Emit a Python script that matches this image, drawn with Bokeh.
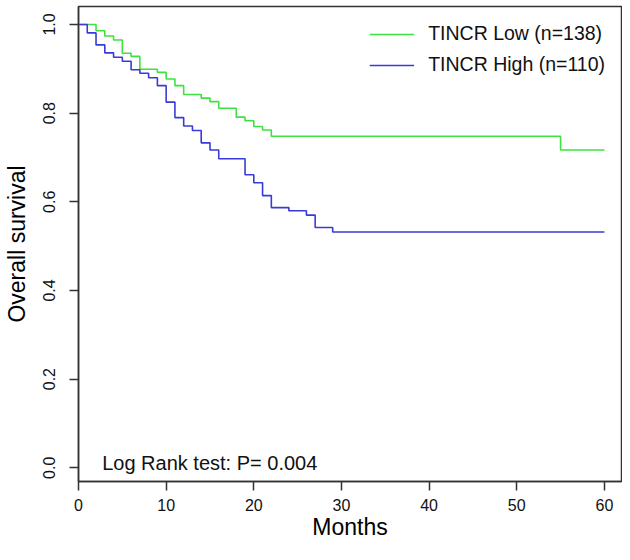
from bokeh.plotting import figure
from bokeh.models import Range1d, FixedTicker, Label, Legend, LegendItem
from bokeh.embed import file_html
from bokeh.resources import INLINE

# Kaplan-Meier steps (months, survival)
low_months = [0, 2, 3, 4, 5, 6, 7, 9, 10, 11, 12, 14, 15, 16, 18, 19, 20, 21, 22, 55, 60]
low_surv = [1.0, 0.986, 0.974, 0.965, 0.935, 0.928, 0.899, 0.892, 0.877, 0.862, 0.842,
            0.834, 0.826, 0.811, 0.791, 0.783, 0.770, 0.762, 0.748, 0.717, 0.717]

high_months = [0, 1, 2, 3, 4, 5, 6, 7, 8, 9, 10, 11, 12, 13, 14, 15, 16, 19, 20, 21, 22,
               24, 26, 27, 29, 60]
high_surv = [1.0, 0.981, 0.954, 0.936, 0.926, 0.917, 0.898, 0.890, 0.880, 0.862, 0.825,
             0.790, 0.771, 0.761, 0.733, 0.717, 0.697, 0.661, 0.643, 0.614, 0.587,
             0.580, 0.570, 0.542, 0.532, 0.532]

x_ticks = [0, 10, 20, 30, 40, 50, 60]
y_ticks = [0.0, 0.2, 0.4, 0.6, 0.8, 1.0]
y_tick_labels = {0.0: "0.0", 0.2: "0.2", 0.4: "0.4", 0.6: "0.6", 0.8: "0.8", 1.0: "1.0"}

low_label = "TINCR Low (n=138)"
high_label = "TINCR High (n=110)"
pvalue_text = "Log Rank test: P=  0.004"

FONT = "Liberation Sans"
GREEN = "#3ee23e"
BLUE = "#3a3ad8"

p = figure(width=622, height=544, output_backend="svg", toolbar_location=None,
           x_range=Range1d(0, 61.95), y_range=Range1d(-0.0309, 1.0406),
           min_border_left=77, min_border_right=1, min_border_top=6, min_border_bottom=63)

p.xgrid.visible = False
p.ygrid.visible = False
p.outline_line_color = "#333333"
p.outline_line_width = 1.5
p.background_fill_color = "white"
p.border_fill_color = "white"

r_low = p.step(low_months, low_surv, mode="after", line_color=GREEN, line_width=1.6)
r_high = p.step(high_months, high_surv, mode="after", line_color=BLUE, line_width=1.6)

for ax in (p.xaxis[0], p.yaxis[0]):
    ax.axis_line_color = "#333333"
    ax.axis_line_width = 1.5
    ax.major_tick_line_color = "#333333"
    ax.major_tick_line_width = 1.5
    ax.major_tick_out = 9
    ax.major_tick_in = 0
    ax.minor_tick_line_color = None
    ax.major_label_text_font = FONT
    ax.major_label_text_font_size = "16px"
    ax.major_label_text_color = "#111111"
    ax.axis_label_text_font = FONT
    ax.axis_label_text_font_style = "normal"
    ax.axis_label_text_color = "#000000"

p.xaxis.ticker = FixedTicker(ticks=x_ticks)
p.yaxis.ticker = FixedTicker(ticks=y_ticks)
p.yaxis.major_label_overrides = y_tick_labels
p.yaxis.major_label_orientation = "vertical"
p.xaxis.major_label_standoff = 8
p.yaxis.major_label_standoff = 14
p.xaxis.axis_label = "Months"
p.yaxis.axis_label = "Overall survival"
p.xaxis.axis_label_text_font_size = "23px"
p.yaxis.axis_label_text_font_size = "23px"
p.xaxis.axis_label_standoff = 0
p.yaxis.axis_label_standoff = 11

legend = Legend(items=[LegendItem(label=low_label, renderers=[r_low]),
                       LegendItem(label=high_label, renderers=[r_high])],
                location="top_right", border_line_color=None, background_fill_alpha=0,
                label_text_font=FONT, label_text_font_size="19.5px", label_text_color="#111111",
                glyph_width=45, glyph_height=20, label_height=20, label_standoff=14,
                spacing=8, padding=0, margin=16)
p.add_layout(legend)

p.add_layout(Label(x=2.7, y=0.01, text=pvalue_text, text_font=FONT, text_font_size="20px",
                   text_color="#111111", text_baseline="alphabetic"))

open("out.html", "w").write(file_html(p, INLINE))
